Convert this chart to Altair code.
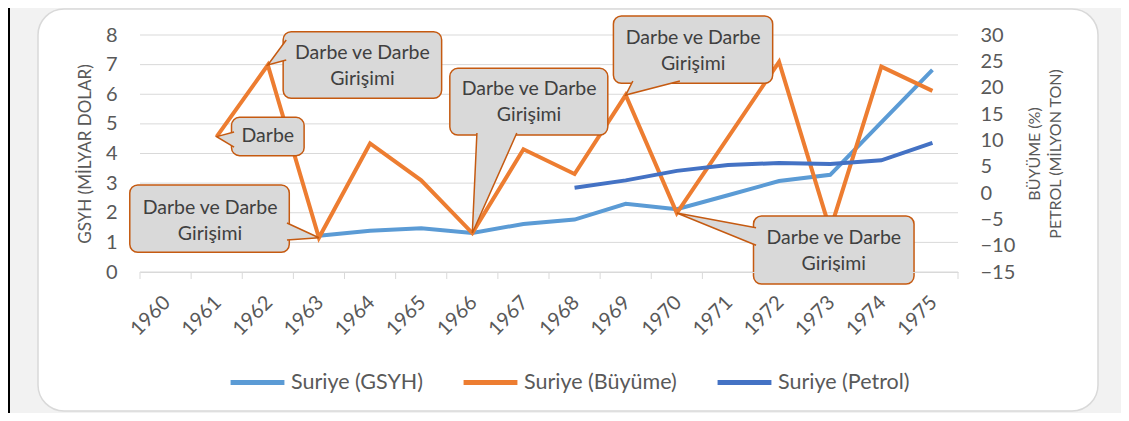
import altair as alt
import pandas as pd

# ---------------- data ----------------
years = list(range(1960, 1976))
gsyh = [None, None, None, 1.22, 1.39, 1.48, 1.32, 1.62, 1.77, 2.30, 2.12, 2.59, 3.07, 3.28, 5.05, 6.82]
buyume = [None, 10.7, 24.3, -8.5, 9.4, 2.4, -7.6, 8.3, 3.6, 18.6, -3.8, 10.5, 24.9, -7.0, 24.0, 19.4]
petrol = [None, None, None, None, None, None, None, None, 1.0, 2.4, 4.2, 5.3, 5.7, 5.5, 6.2, 9.5]

series_names = ["Suriye (GSYH)", "Suriye (Büyüme)", "Suriye (Petrol)"]
series_colors = ["#5b9bd5", "#ed7d31", "#4472c4"]

left_ticks = [0, 1, 2, 3, 4, 5, 6, 7, 8]
right_ticks = [-15, -10, -5, 0, 5, 10, 15, 20, 25, 30]
left_title = "GSYH (MİLYAR DOLAR)"
right_title = ["BÜYÜME (%)", "PETROL (MİLYON TON)"]

# callouts (in data units: year on x, Büyüme axis on y)
ann_text = ["Darbe", "Darbe ve Darbe\nGirişimi", "Darbe ve Darbe\nGirişimi",
            "Darbe ve Darbe\nGirişimi", "Darbe ve Darbe\nGirişimi", "Darbe ve Darbe\nGirişimi"]
ann_year = [1961, 1962, 1963, 1966, 1969, 1970]
ann_x1 = [1961.29, 1962.30, 1959.30, 1965.56, 1968.76, 1971.50]
ann_x2 = [1962.71, 1965.40, 1962.42, 1968.65, 1971.875, 1974.64]
ann_v1 = [7.09, 17.98, -11.26, 11.01, 20.83, -17.28]
ann_v2 = [14.37, 30.63, 1.52, 23.67, 33.61, -4.37]
ann_tx = [1962.0, 1963.85, 1960.87, 1967.11, 1970.32, 1973.07]
ann_tv = [10.73, 26.58, -2.91, 19.69, 29.37, -8.61]   # centre of first text line
wedge_x_a = [1961.34, 1962.36, 1962.375, 1966.09, 1969.14, 1971.55]
wedge_v_a = [11.58, 29.05, -5.70, 11.39, 21.27, -6.59]
wedge_x_b = [1961.34, 1962.36, 1962.375, 1966.87, 1970.06, 1971.55]
wedge_v_b = [8.73, 25.25, -8.92, 11.39, 21.27, -9.91]

# ---------------- tables ----------------
def series_df(vals, name):
    d = pd.DataFrame({"year": years, "val": vals, "series": name})
    return d.dropna()

gsyh_df = series_df(gsyh, series_names[0])
buy_df = series_df(buyume, series_names[1])
pet_df = series_df(petrol, series_names[2])

tip_v = [buyume[years.index(y)] for y in ann_year]
box_df = pd.DataFrame({"x1": ann_x1, "x2": ann_x2, "v1": ann_v1, "v2": ann_v2})
txt_df = pd.DataFrame({"year": ann_tx, "val": ann_tv, "label": ann_text})
wedge_rows = []
for i in range(len(ann_year)):
    wedge_rows.append({"id": i, "k": 0, "year": wedge_x_a[i], "val": wedge_v_a[i]})
    wedge_rows.append({"id": i, "k": 1, "year": ann_year[i], "val": tip_v[i]})
    wedge_rows.append({"id": i, "k": 2, "year": wedge_x_b[i], "val": wedge_v_b[i]})
wedge_df = pd.DataFrame(wedge_rows)
bound_df = pd.DataFrame({"year": [y - 0.5 for y in years] + [years[-1] + 0.5]})
grid_df = pd.DataFrame({"val": left_ticks})

# ---------------- styling ----------------
FONT = "Lato"
GREY = "#595959"
W, H = 818, 237
LW = 4

xscale = alt.Scale(domain=[years[0] - 0.5, years[-1] + 0.5], nice=False, zero=False)
xaxis = alt.Axis(values=years, format="d", labelAngle=315, labelFont=FONT, labelFontSize=20,
                 labelColor=GREY, ticks=False, grid=False, domain=True, domainColor="#d9d9d9",
                 domainWidth=1, title=None, labelFlush=False, labelOverlap=False, labelPadding=20,
                 labelOffset=-6, zindex=1)
lscale = alt.Scale(domain=[0, 8], nice=False, zero=False)
laxis = alt.Axis(orient="left", values=left_ticks, grid=False,
                 domain=False, ticks=False, labelFont=FONT, labelFontSize=20, labelColor=GREY,
                 labelPadding=23, title=left_title, titleFont=FONT, titleFontSize=17,
                 titleColor=GREY, titleFontWeight="normal", titleAngle=270, titleX=-55,
                 titleY=H / 2, titleAlign="center", titleBaseline="middle", zindex=1)
rscale = alt.Scale(domain=[-15, 30], nice=False, zero=False)
raxis = alt.Axis(orient="right", values=right_ticks, grid=False, domain=False, ticks=False,
                 labelFont=FONT, labelFontSize=20, labelColor=GREY, labelPadding=22,
                 labelAlign="left", title=right_title, titleFont=FONT, titleFontSize=16,
                 titleColor=GREY, titleFontWeight="normal", titleAngle=270, titleX=76,
                 titleY=H / 2, titleAlign="center", titleBaseline="middle", titleLineHeight=21,
                 zindex=1)

color_enc = alt.Color("series:N",
                      scale=alt.Scale(domain=series_names, range=series_colors),
                      legend=alt.Legend(orient="none", legendX=88, legendY=318,
                                        direction="horizontal", title=None, symbolType="stroke",
                                        symbolSize=2900, symbolStrokeWidth=5, labelFont=FONT,
                                        labelFontSize=21.5, labelColor=GREY, labelOffset=4,
                                        columnPadding=30))

X = alt.X("year:Q", scale=xscale, axis=xaxis)
LY = alt.Y("val:Q", scale=lscale, axis=laxis)

one = pd.DataFrame({"a": [0]})
frame = alt.Chart(one).mark_rect(fill="white", stroke="#d9d9d9", strokeWidth=1.5,
                                 cornerRadius=26).encode(
    x=alt.value(-102), x2=alt.value(958), y=alt.value(-26), y2=alt.value(376))
edge = alt.Chart(one).mark_rule(color="black", strokeWidth=2).encode(
    x=alt.value(-131), y=alt.value(-27), y2=alt.value(378))
grid = alt.Chart(grid_df).mark_rule(color="#d9d9d9", strokeWidth=1).encode(
    y=LY, x=alt.value(0), x2=alt.value(W))
ticks = alt.Chart(bound_df).mark_rule(color="#d9d9d9", strokeWidth=1).encode(
    x=X, y=alt.value(H), y2=alt.value(H + 7))

gsyh_line = alt.Chart(gsyh_df).mark_line(strokeWidth=LW).encode(
    x=X, y=LY, color=color_enc)

left = alt.layer(frame, edge, grid, ticks, gsyh_line)

RY = alt.Y("val:Q", scale=rscale, axis=raxis)
buy_line = alt.Chart(buy_df).mark_line(strokeWidth=LW).encode(x=X, y=RY, color=color_enc)
pet_line = alt.Chart(pet_df).mark_line(strokeWidth=LW).encode(x=X, y=RY, color=color_enc)

boxes = alt.Chart(box_df).mark_rect(fill="#d9d9d9", stroke="#c55a11", strokeWidth=1.5,
                                    cornerRadius=8).encode(
    x=alt.X("x1:Q", scale=xscale, axis=xaxis), x2="x2",
    y=alt.Y("v1:Q", scale=rscale, axis=raxis), y2="v2")
wedges = alt.Chart(wedge_df).mark_line(fill="#d9d9d9", stroke="#c55a11", strokeWidth=1.5).encode(
    x=X, y=RY, order=alt.Order("k:Q"), detail="id:N")
texts = alt.Chart(txt_df).mark_text(font=FONT, fontSize=19.5, color="#404040", lineBreak="\n",
                                    lineHeight=25.5, align="center", baseline="middle").encode(
    x=X, y=RY, text="label:N")

right = alt.layer(buy_line, pet_line, boxes, wedges, texts)

chart = alt.layer(left, right).resolve_scale(y="independent").properties(
    width=W, height=H,
    padding={"left": 132, "top": 27, "right": 163, "bottom": 141},
    autosize=alt.AutoSizeParams(type="none"),
    background="#f2f2f2",
).configure_view(stroke=None).configure(font=FONT)

chart.save("out.html", embed_options={"renderer": "svg", "actions": False})
